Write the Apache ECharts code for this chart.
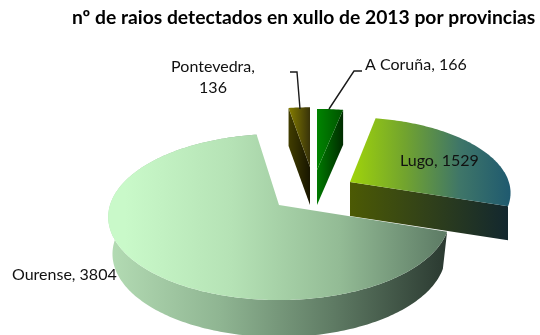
<!DOCTYPE html>
<html><head><meta charset="utf-8">
<style>html,body{margin:0;padding:0;background:#fff}#c{width:540px;height:335px}</style>
<script src="https://cdn.jsdelivr.net/npm/echarts@6/dist/echarts.min.js"></script>
</head><body><div id="c"></div>
<script>
const provinces = ["A Coruña", "Lugo", "Ourense", "Pontevedra"];
const strikes = [166, 1529, 3804, 136];
const titleText = "nº de raios detectados en xullo de 2013 por provincias";

// projection of the tilted disc
const RX = 169, RY = 81.3, PERSP = 0.1445;
const grad = (x0, x1, stops) => ({type:'linear', x:x0, y:0, x2:x1, y2:0, global:true,
  colorStops: stops.map((c,i)=>({offset:i/(stops.length-1), color:c}))});
const sliceStyle = [
  {ax:317, ay:170, sx:0.96, sy:0.86, h:35, shrink:1, wall:'end',
   top:grad(317,343,['#008400','#005300']), side:grad(317,343,['#007a00','#002c00']),
   label:{x:365,y:65,align:'left'}, leader:[[362,71],[354,71],[329,109]]},
  {ax:350, ay:182, sx:0.94, sy:0.91, h:34, shrink:1, wall:'end',
   top:grad(350,514,['#a0d40a','#72a42e','#3f7668','#1d5870']), side:grad(350,510,['#4c5a04','#30401a','#12272f']),
   label:{x:400,y:161,align:'left'}},
  {ax:279, ay:205, sx:1, sy:1, h:37, shrink:0.975, wall:'outer',
   top:grad(125,447,['#c9f9c9','#b5e2b5','#93bb95','#5c7a64']), side:grad(108,445,['#b4dcb4','#8fb592','#5f7b64','#2b3a31']),
   label:{x:12,y:275,align:'left'}},
  {ax:310, ay:167, sx:0.96, sy:0.84, h:38, shrink:1, wall:'start',
   top:grad(289,310,['#847c00','#38330a']), side:grad(289,310,['#413d00','#171500']),
   label:{x:213,y:77,align:'center',wrap:true}, leader:[[290,72],[297,72],[300,109]]}
];

const total = strikes.reduce((a,b)=>a+b,0);
const dataRows = strikes.map((v,i)=>[i,v]);
function point(st, deg, scale, dy){
  const t = deg*Math.PI/180, u = Math.sin(t), v = Math.cos(t), w = 1+PERSP*v;
  return [st.ax + RX*st.sx*u/w*scale, st.ay - RY*st.sy*v/w + dy];
}
function renderItem(params, api){
  const i = api.value(0), st = sliceStyle[i];
  let start = 0; for(let k=0;k<i;k++) start += strikes[k]/total*360;
  const end = start + api.value(1)/total*360;
  const arc = [], arcLow = [];
  const n = Math.max(2, Math.ceil(end-start));
  for(let k=0;k<=n;k++){
    const d = start+(end-start)*k/n;
    arc.push(point(st,d,1,0)); arcLow.push(point(st,d,st.shrink,st.h));
  }
  const apex = [st.ax, st.ay], apexLow = [st.ax, st.ay+st.h];
  const ch = [];
  if(st.wall==='outer'){
    ch.push({type:'polygon',shape:{points:arc.concat(arcLow.slice().reverse())},style:{fill:st.side}});
  } else {
    const a = st.wall==='end' ? arc[n] : arc[0], b = st.wall==='end' ? arcLow[n] : arcLow[0];
    ch.push({type:'polygon',shape:{points:[apex,a,b,apexLow]},style:{fill:st.side}});
  }
  ch.push({type:'polygon',shape:{points:[apex].concat(arc)},style:{fill:st.top}});
  if(st.leader) ch.push({type:'polyline',shape:{points:st.leader},style:{stroke:'#1a1a1a',lineWidth:1.4,fill:'none'}});
  const txt = provinces[i]+(st.label.wrap?',\n':', ')+api.value(1);
  ch.push({type:'text',x:st.label.x,y:st.label.y,style:{text:txt,fill:'#111',
    font:'16px Lato',lineHeight:21,align:st.label.align,verticalAlign:'middle'}});
  return {type:'group',children:ch};
}
const chart = echarts.init(document.getElementById('c'),null,{renderer:'canvas'});
chart.setOption({
  animation:false,
  backgroundColor:'#fff',
  title:{text:titleText,left:67,top:3,textStyle:{fontFamily:'Lato',fontWeight:'bold',fontSize:19.3,color:'#000'}},
  series:[{type:'custom',coordinateSystem:'none',renderItem,data:dataRows,silent:true,clip:false}]
});
</script></body></html>
